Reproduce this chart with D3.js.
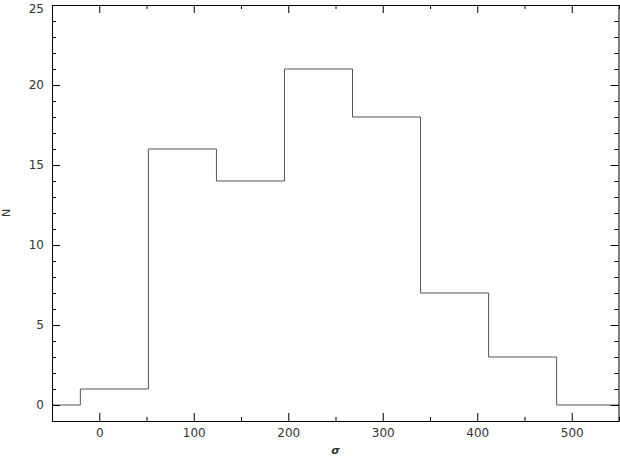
<!DOCTYPE html>
<html>
<head>
<script src="https://d3js.org/d3.v7.min.js"></script>
<style>
  body { margin: 0; background: #fff; }
  text { font-family: "DejaVu Sans", Verdana, sans-serif; font-size: 12px; fill: #333; }
  .axis path, .axis line { stroke: #000; }
</style>
</head>
<body>
<svg id="chart" width="620" height="458"></svg>
<script>
// histogram bin edges and counts
const binEdges = [-92, -20, 52, 124, 196, 268, 340, 412, 484, 556];
const counts = [0, 1, 16, 14, 21, 18, 7, 3, 0];
const xTicks = [0, 100, 200, 300, 400, 500];
const yTicks = [0, 5, 10, 15, 20, 25];

const svg = d3.select("svg#chart");
const margin = { top: 5, right: 1, bottom: 37, left: 52 };
const width = +svg.attr("width"), height = +svg.attr("height");

const x = d3.scaleLinear().domain([-50, 550]).range([margin.left, width - margin.right]);
const y = d3.scaleLinear().domain([-1, 25]).range([height - margin.bottom, margin.top]);

svg.append("clipPath").attr("id", "clip")
  .append("rect")
  .attr("x", x(-50)).attr("y", y(25)).attr("width", x(550) - x(-50)).attr("height", y(-1) - y(25));

// step line through the bins
const steps = [];
counts.forEach((c, i) => {
  steps.push([binEdges[i], c]);
  steps.push([binEdges[i + 1], c]);
});
svg.append("path")
  .datum(steps)
  .attr("clip-path", "url(#clip)")
  .attr("fill", "none")
  .attr("stroke", "#555")
  .attr("stroke-width", 1)
  .attr("d", d3.line().x(d => x(d[0])).y(d => y(d[1])));

// minor ticks
const xMinor = d3.range(-50, 551, 50).filter(v => !xTicks.includes(v));
const yMinor = d3.range(-1, 26, 1).filter(v => !yTicks.includes(v));

function drawAxis(axis, tr, minor, ticks) {
  const g = svg.append("g").attr("class", "axis").attr("transform", tr);
  g.call(axis.tickValues(ticks).tickSizeOuter(0));
  const m = svg.append("g").attr("class", "axis").attr("transform", tr);
  m.call(axis.tickValues(minor).tickSize(axis.tickSizeInner() / 2).tickFormat("").tickSizeOuter(0));
  m.select(".domain").remove();
  return g;
}

drawAxis(d3.axisBottom(x).tickSize(-8).tickPadding(7), `translate(0,${y(-1)})`, xMinor, xTicks);
drawAxis(d3.axisTop(x).tickSize(-8).tickFormat(""), `translate(0,${y(25)})`, xMinor, xTicks);
const leftG = drawAxis(d3.axisLeft(y).tickSize(-8).tickPadding(8), `translate(${x(-50)},0)`, yMinor, yTicks);
drawAxis(d3.axisRight(y).tickSize(-8).tickFormat(""), `translate(${x(550) - 0.5},0)`, yMinor, yTicks);

svg.selectAll(".axis text").style("font-size", "12px").attr("fill", "#333");
// keep the top label inside the page
leftG.selectAll(".tick text").filter(d => d === 25).attr("dy", "0.6em");

// axis titles
svg.append("text")
  .attr("transform", `translate(6,${(y(-1) + y(25)) / 2}) rotate(-90)`)
  .attr("text-anchor", "middle")
  .attr("dy", "0.35em")
  .style("font-size", "11px")
  .text("N");

svg.append("text")
  .attr("x", (x(-50) + x(550)) / 2)
  .attr("y", 454)
  .attr("text-anchor", "middle")
  .style("font-size", "11px")
  .style("font-style", "italic")
  .style("font-weight", "bold")
  .text("σ");
</script>
</body>
</html>
